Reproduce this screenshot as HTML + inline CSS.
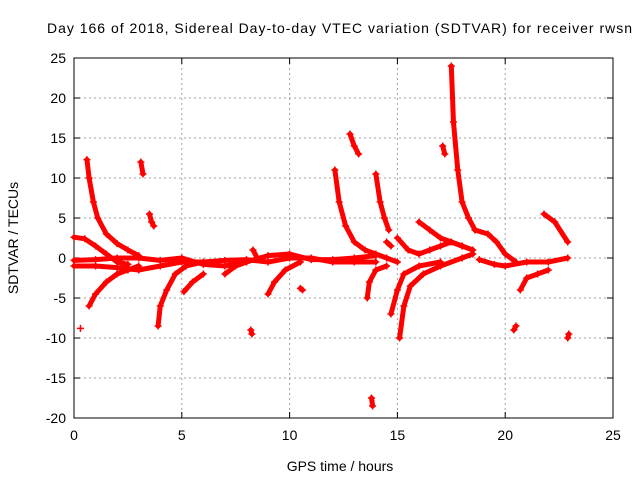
<!DOCTYPE html>
<html><head><meta charset="utf-8">
<style>
body{margin:0;background:#fff;}
svg{display:block;font-family:"Liberation Sans",sans-serif;}
</style></head>
<body>
<svg id="chart" width="640" height="480" viewBox="0 0 640 480">
<rect width="640" height="480" fill="#fff"/>
<text x="47" y="33" font-size="14" textLength="585" lengthAdjust="spacing" fill="#000">Day 166 of 2018, Sidereal Day-to-day VTEC variation (SDTVAR) for receiver rwsn</text>
<g id="grid"></g>
<g id="axes"></g>
<g id="series"></g>
<text x="340" y="471" font-size="14" text-anchor="middle">GPS time / hours</text>
<text transform="translate(18,238) rotate(-90)" font-size="14" text-anchor="middle">SDTVAR / TECUs</text>
</svg>
<script>
const xTicks=[0,5,10,15,20,25];
const yTicks=[-20,-15,-10,-5,0,5,10,15,20,25];
const track1=[[0,2.6],[0.5,2.4],[1,1.5],[1.5,0.5],[2,-0.5],[2.5,-0.8]];
const track2=[[0.6,12.3],[0.7,10],[0.9,7],[1.1,5],[1.5,3],[2,1.8],[2.5,1],[3,0.3]];
const track3=[[0.7,-6],[1,-4.5],[1.5,-3],[2,-2],[2.5,-1.5],[3,-1]];
const track4=[[0,-1],[1,-1],[2,-1.2],[3,-1.5],[4,-1],[5,-0.5],[6,-0.5],[7,-0.3],[8,-0.2],[9,-0.5],[10,0],[11,0],[12,-0.5],[13,-0.5],[14,-0.5]];
const track5=[[0,-0.3],[1,-0.2],[2,0],[3,0],[4,-0.3],[5,0],[6,-0.8],[7,-1],[8,-0.5],[9,0.3],[10,0.5],[11,-0.2],[12,-0.2],[13,0],[14,0.3]];
const track6=[[3.1,12],[3.2,10.5]];
const track7=[[3.5,5.5],[3.6,4.5],[3.7,4]];
const track8=[[3.9,-8.5],[4,-6],[4.3,-4],[4.7,-2],[5.2,-1],[6,-0.5]];
const track9=[[5.1,-4.2],[5.5,-3],[6,-2]];
const track10=[[7,-2],[7.5,-1],[8,-0.5]];
const track11=[[8.2,-9],[8.25,-9.5]];
const track12=[[8.3,1],[8.5,0]];
const track13=[[9,-4.5],[9.3,-3],[9.8,-1.5],[10.5,-0.5]];
const track14=[[10.5,-3.8],[10.6,-4]];
const track15=[[12.1,11],[12.3,7],[12.6,4],[13,2],[13.5,1],[14,0.5],[14.5,0],[15,-0.5]];
const track16=[[12.8,15.5],[13,14],[13.2,13]];
const track17=[[14,10.5],[14.2,7],[14.4,5],[14.6,3.5]];
const track18=[[14.5,2],[14.7,1.5]];
const track19=[[13.8,-17.5],[13.85,-18.5]];
const track20=[[13.6,-5],[13.7,-3],[14,-1.5],[14.5,-1]];
const track21=[[14.7,-7],[15,-4],[15.3,-2],[16,-1],[17,-0.5]];
const track22=[[15.1,-10],[15.3,-6],[15.6,-3.5],[16.2,-2],[17,-1],[18,0],[18.5,0.5]];
const track23=[[15,2.5],[15.5,1],[16,0.5],[16.5,1],[17,1.5],[17.5,2],[18,1.5]];
const track24=[[16,4.5],[16.5,3.5],[17,2.5],[17.5,2],[18,1.5],[18.5,1]];
const track25=[[17.5,24],[17.6,17],[17.8,11],[18,7],[18.3,5],[18.6,3.5]];
const track26=[[17.1,14],[17.2,13]];
const track27=[[18.6,3.5],[19.2,3],[19.6,2],[20,0.5],[20.5,-0.5]];
const track28=[[18.8,-0.2],[19.5,-0.8],[20,-1],[21,-0.5],[22,-0.5],[22.9,0]];
const track29=[[20.4,-9],[20.5,-8.5]];
const track30=[[20.7,-4],[21,-2.5],[21.5,-2],[22,-1.5]];
const track31=[[21.8,5.5],[22.3,4.5],[22.9,2]];
const track32=[[22.9,-10],[22.95,-9.5]];
const track33=[[0.3,-8.8]];
const tracks=[track1,track2,track3,track4,track5,track6,track7,track8,track9,track10,track11,track12,track13,track14,track15,track16,track17,track18,track19,track20,track21,track22,track23,track24,track25,track26,track27,track28,track29,track30,track31,track32,track33];

const L=74,R=613,T=58,B=418;
const xs=v=>L+(v-0)/(25-0)*(R-L);
const ys=v=>B-(v+20)/(45)*(B-T);
const NS='http://www.w3.org/2000/svg';
function mk(tag,attrs,parent){const e=document.createElementNS(NS,tag);for(const k in attrs)e.setAttribute(k,attrs[k]);parent.appendChild(e);return e;}
const grid=document.getElementById('grid'),axes=document.getElementById('axes'),series=document.getElementById('series');
xTicks.forEach(t=>{
  const x=xs(t);
  if(t>0&&t<25){const g=mk('line',{x1:x,x2:x,y1:T,y2:B,stroke:'#a0a0a0','stroke-dasharray':'2,3','stroke-width':1},grid);
  
  }
  mk('line',{x1:x,x2:x,y1:B,y2:B-6,stroke:'#000'},axes);
  mk('line',{x1:x,x2:x,y1:T,y2:T+6,stroke:'#000'},axes);
  const tx=mk('text',{x:x,y:B+22,'font-size':14,'text-anchor':'middle'},axes);
  tx.textContent=t;
  
  
});
yTicks.forEach(t=>{
  const y=ys(t);
  if(t>-20&&t<25){const g=mk('line',{x1:L,x2:R,y1:y,y2:y,stroke:'#a0a0a0','stroke-dasharray':'2,3','stroke-width':1},grid);
  
  }
  mk('line',{x1:L,x2:L+6,y1:y,y2:y,stroke:'#000'},axes);
  mk('line',{x1:R,x2:R-6,y1:y,y2:y,stroke:'#000'},axes);
  const tx=mk('text',{x:L-8,y:y+5,'font-size':14,'text-anchor':'end'},axes);
  tx.textContent=t;
  
  
});
mk('rect',{x:L,y:T,width:R-L,height:B-T,fill:'none',stroke:'#000'},axes);
tracks.forEach(tr=>{
  if(tr.length>1){
    const pl=mk('polyline',{points:tr.map(p=>xs(p[0])+','+ys(p[1])).join(' '),fill:'none',stroke:'#ff0000','stroke-width':5,'stroke-linejoin':'round','stroke-linecap':'round'},series);
    
    
  }
  tr.forEach(p=>{
    const x=xs(p[0]),y=ys(p[1]);
    const m=mk('path',{d:`M${x-3.5},${y}H${x+3.5}M${x},${y-3.5}V${y+3.5}`,stroke:'#ff0000','stroke-width':1.5},series);
    
    
  });
});
</script>
</body></html>
